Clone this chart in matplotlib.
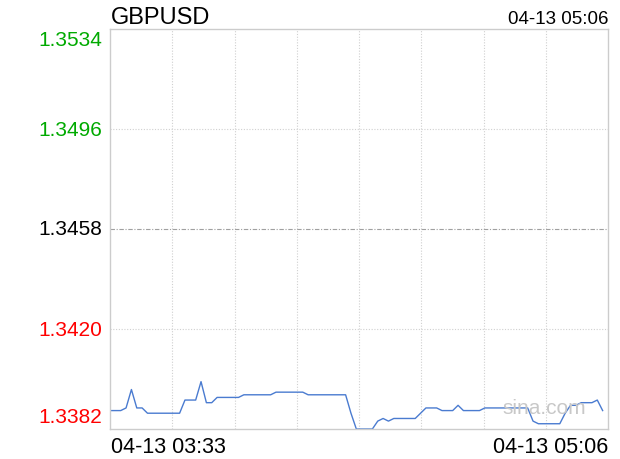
import matplotlib
matplotlib.use("Agg")
import matplotlib.pyplot as plt

symbol = "GBPUSD"
time_start = "04-13 03:33"
time_end = "04-13 05:06"
y_ticks = [1.3382, 1.3420, 1.3458, 1.3496, 1.3534]
y_tick_labels = ["1.3382", "1.3420", "1.3458", "1.3496", "1.3534"]
prev_close = 1.3458
n_minutes = 94  # 03:33 .. 05:06

prices = [
    1.3389, 1.3389, 1.3389, 1.3390, 1.3397, 1.3390, 1.3390, 1.3388, 1.3388, 1.3388,
    1.3388, 1.3388, 1.3388, 1.3388, 1.3393, 1.3393, 1.3393, 1.3400, 1.3392, 1.3392,
    1.3394, 1.3394, 1.3394, 1.3394, 1.3394, 1.3395, 1.3395, 1.3395, 1.3395, 1.3395,
    1.3395, 1.3396, 1.3396, 1.3396, 1.3396, 1.3396, 1.3396, 1.3395, 1.3395, 1.3395,
    1.3395, 1.3395, 1.3395, 1.3395, 1.3395, 1.3388, 1.3382, 1.3382, 1.3382, 1.3382,
    1.3385, 1.3386, 1.3385, 1.3386, 1.3386, 1.3386, 1.3386, 1.3386, 1.3388, 1.3390,
    1.3390, 1.3390, 1.3389, 1.3389, 1.3389, 1.3391, 1.3389, 1.3389, 1.3389, 1.3389,
    1.3390, 1.3390, 1.3390, 1.3390, 1.3390, 1.3390, 1.3390, 1.3390, 1.3390, 1.3385,
    1.3384, 1.3384, 1.3384, 1.3384, 1.3384, 1.3388, 1.3391, 1.3391, 1.3392, 1.3392,
    1.3392, 1.3393, 1.3389,
]

plt.rcParams['font.family'] = ['Liberation Sans', 'DejaVu Sans']

fig = plt.figure(figsize=(6.2, 4.6), dpi=100)
ax = fig.add_axes([110 / 620, 30 / 460, 498 / 620, 400 / 460])

x = list(range(len(prices)))
ax.plot(x, prices, color='#4a7bd0', linewidth=1.0)

ax.set_xlim(0, n_minutes - 1)
ax.set_ylim(y_ticks[0], y_ticks[-1])

# vertical grid: 8 equal divisions
for k in range(1, 8):
    ax.axvline((n_minutes - 1) * k / 8, color='#d0d0d0', linestyle=(0, (1, 1.5)), linewidth=0.8, zorder=0)
for v in y_ticks[1:-1]:
    if v == prev_close:
        ax.axhline(v, color='#a0a0a0', linestyle=(0, (4, 1.5, 1, 1.5)), linewidth=0.8, zorder=0)
    else:
        ax.axhline(v, color='#d0d0d0', linestyle=(0, (1, 1.5)), linewidth=0.8, zorder=0)

for s in ax.spines.values():
    s.set_color('#cccccc')
    s.set_linewidth(1.0)
ax.set_xticks([])
ax.set_yticks([])

# y labels
colors = ['#ff0000', '#ff0000', '#000000', '#00aa00', '#00aa00']
for v, lab, c in zip(y_ticks, y_tick_labels, colors):
    if v == y_ticks[-1]:
        va, off = 'top', -1
    elif v == y_ticks[0]:
        va, off = 'bottom', 3
    else:
        va, off = 'center', 0
    ax.annotate(lab, xy=(0, v), xycoords=('axes fraction', 'data'),
                xytext=(-8, off), textcoords='offset pixels',
                ha='right', va=va, fontsize=15, color=c)

def label(txt, xf, yf, dx, dy, ha, size, color='#000000'):
    ax.annotate(txt, xy=(xf, yf), xycoords='axes fraction', xytext=(dx, dy),
                textcoords='offset pixels', ha=ha, va='baseline', fontsize=size, color=color)

# top baseline at y=24 px (axes top at 30)
label(symbol, 0, 1, 1, 6, 'left', 17)
label(time_end, 1, 1, 0, 6, 'right', 13.5)
# bottom baseline at y=453 px (axes bottom at 430)
label(time_start, 0, 0, 1, -23, 'left', 15.5)
label(time_end, 1, 0, 0, -23, 'right', 15.5)
ax.text(0.955, 0.03, "sina.com", transform=ax.transAxes, ha='right', va='bottom',
        fontsize=15, color='#c8c8c8', zorder=5)

fig.savefig("out.png", dpi=100)
